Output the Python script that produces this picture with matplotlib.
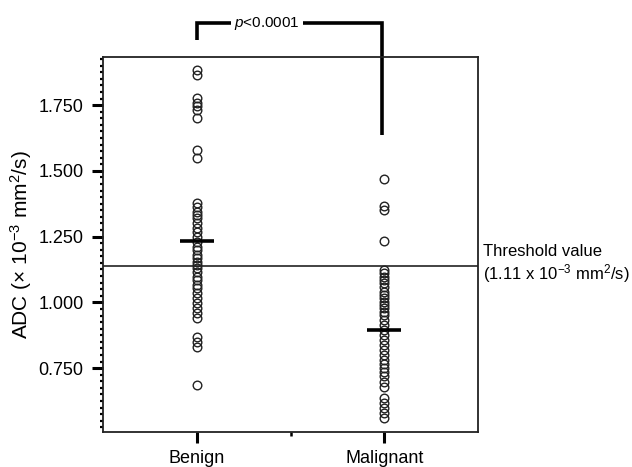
import numpy as np
import matplotlib
matplotlib.use("Agg")
import matplotlib.pyplot as plt
from matplotlib.ticker import MultipleLocator, FixedLocator

plt.rcParams['font.family'] = ['Liberation Sans', 'DejaVu Sans']
plt.rcParams['mathtext.fontset'] = 'custom'
plt.rcParams['mathtext.rm'] = 'Liberation Sans'
plt.rcParams['mathtext.it'] = 'Liberation Sans:italic'
plt.rcParams['mathtext.default'] = 'regular'

# data (ADC, x 10^-3 mm2/s)
groups = ["Benign", "Malignant"]
benign = [1.883, 1.864, 1.777, 1.758, 1.746, 1.731, 1.701, 1.579, 1.548,
          1.377, 1.362, 1.343, 1.332, 1.320, 1.301, 1.282, 1.267, 1.248,
          1.229, 1.210, 1.199, 1.180, 1.168, 1.153, 1.142, 1.130, 1.115,
          1.096, 1.085, 1.066, 1.054, 1.035, 1.016, 0.997, 0.978, 0.959,
          0.940, 0.868, 0.849, 0.830, 0.685]
malignant = [1.469, 1.366, 1.351, 1.233, 1.123, 1.111, 1.096, 1.085, 1.073,
             1.058, 1.039, 1.028, 1.016, 1.001, 0.990, 0.978, 0.963, 0.951,
             0.932, 0.913, 0.894, 0.875, 0.856, 0.837, 0.818, 0.799, 0.780,
             0.765, 0.750, 0.735, 0.720, 0.697, 0.678, 0.636, 0.617, 0.598,
             0.579, 0.560]
means = [1.234, 0.894]
threshold = 1.138
p_text = "$\\it{p}$<0.0001"

fig = plt.figure(figsize=(6.32, 4.67), dpi=100)
ax = fig.add_axes([103/632, 35/467, 375/632, 375/467])

for i, vals in enumerate([benign, malignant]):
    ax.plot(np.full(len(vals), i + 1), vals, 'o', mfc='none', mec='#222222',
            ms=6.2, mew=1.0, clip_on=False)
    ax.plot([i + 1 - 0.09, i + 1 + 0.09], [means[i], means[i]], color='black',
            lw=2.6, solid_capstyle='butt', zorder=5)

ax.axhline(threshold, color='#222222', lw=1.2)

ax.set_xlim(0.5, 2.5)
ax.set_ylim(0.507, 1.933)
ax.set_xticks([1, 2])
ax.set_xticklabels(groups, fontsize=13)
ax.xaxis.set_minor_locator(FixedLocator([1.5]))
ax.yaxis.set_major_locator(FixedLocator([0.75, 1.0, 1.25, 1.5, 1.75]))
ax.set_yticklabels(["0.750", "1.000", "1.250", "1.500", "1.750"], fontsize=13)
ax.yaxis.set_minor_locator(MultipleLocator(0.025))
ax.tick_params(axis='both', which='major', length=8, width=2.2, color='black', pad=5)
ax.tick_params(axis='y', which='major', pad=6)
ax.tick_params(axis='x', which='minor', length=3, width=1.8, color='black')
ax.tick_params(axis='y', which='minor', length=2, width=1.6, color='black')
for s in ax.spines.values():
    s.set_color('#222222')
    s.set_linewidth(1.3)

ax.set_ylabel("ADC (× 10$^{-3}$ mm$^{2}$/s)", fontsize=15)
ax.yaxis.set_label_coords(-0.185, 0.5)

# significance bracket
kw = dict(color='black', lw=2.6, clip_on=False, solid_joinstyle='miter', solid_capstyle='butt')
ax.plot([1.0, 1.0, 1.18], [1.997, 2.062, 2.062], **kw)
ax.plot([1.565, 1.99, 1.99], [2.062, 2.062, 1.636], **kw)
ax.text(1.375, 2.062, p_text, ha='center', va='center', fontsize=11)

ax.text(2.525, threshold + 0.005, "Threshold value\n(1.11 x 10$^{-3}$ mm$^{2}$/s)",
        ha='left', va='center', fontsize=12, linespacing=1.2)

fig.savefig("out.png", dpi=100)
